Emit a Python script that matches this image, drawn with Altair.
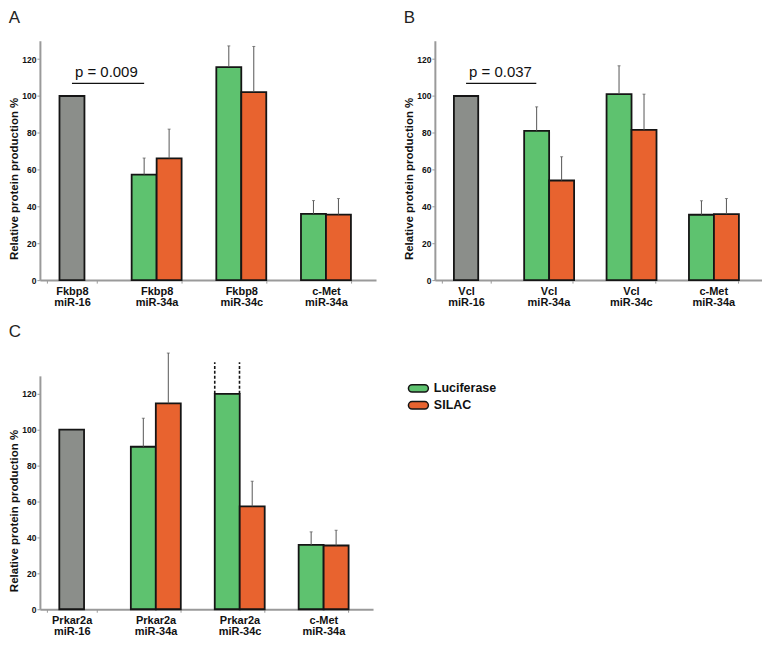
import altair as alt
import pandas as pd

FONT = "Liberation Sans"
GRAY = "#8b8e8a"
GREEN = "#5ec26f"
ORANGE = "#e8632f"
EDGE = "#151515"
ERR = "#555555"
AXIS = "#9a9a9a"

series = ["Luciferase", "SILAC"]
y_ticks = [0, 20, 40, 60, 80, 100, 120]
y_title = "Relative protein production %"

# Panel A
a_cats = ["Fkbp8|miR-16", "Fkbp8|miR-34a", "Fkbp8|miR-34c", "c-Met|miR-34a"]
a_control = 100
a_luc = [57.3, 115.7, 36.0]
a_luc_top = [66.3, 127.2, 43.2]
a_silac = [66.1, 102.1, 35.6]
a_silac_top = [82.0, 126.9, 44.3]
a_p_text = "p = 0.009"
a_p_level = 106.8

# Panel B
b_cats = ["Vcl|miR-16", "Vcl|miR-34a", "Vcl|miR-34c", "c-Met|miR-34a"]
b_control = 100
b_luc = [81.1, 101.0, 35.5]
b_luc_top = [94.1, 116.4, 43.1]
b_silac = [54.1, 81.6, 35.8]
b_silac_top = [67.0, 101.0, 44.3]
b_p_text = "p = 0.037"
b_p_level = 106.8

# Panel C
c_cats = ["Prkar2a|miR-16", "Prkar2a|miR-34a", "Prkar2a|miR-34c", "c-Met|miR-34a"]
c_control = 100
c_luc = [90.5, 120.0, 35.8]
c_luc_top = [106.4, None, 43.1]
c_silac = [114.7, 57.3, 35.5]
c_silac_top = [142.7, 71.3, 44.0]
c_break_cat = "Prkar2a|miR-34c"
c_break_lo = 120.0
c_break_hi = 137.6


def panel(letter, cats, ctrl, luc, luc_top, sil, sil_top, width, height,
          title_offset, p_text=None, p_level=None, brk=None):
    rows = []
    for i, c in enumerate(cats[1:]):
        rows.append(dict(cat=c, series="Luciferase", v=luc[i], top=luc_top[i]))
        rows.append(dict(cat=c, series="SILAC", v=sil[i], top=sil_top[i]))
    df = pd.DataFrame(rows)
    ctrl_df = pd.DataFrame([dict(cat=cats[0], v=ctrl)])

    xscale = alt.Scale(domain=cats, paddingInner=0.41, paddingOuter=0.19, align=0.22)
    xaxis = alt.Axis(
        title=None, labelExpr="split(datum.label, '|')", labelAngle=0,
        labelFont=FONT, labelFontSize=11, labelFontWeight="bold", labelColor="#111",
        labelLineHeight=11, labelPadding=2, tickBand="extent", tickSize=3,
        tickColor=AXIS, domainColor=AXIS, domainWidth=2, grid=False,
    )
    yaxis = alt.Axis(
        values=y_ticks, title=y_title, titleFont=FONT, titleFontSize=11.5,
        titleFontWeight="bold", titleColor="#111", titlePadding=2,
        titleY=height / 2 + 18, labelOverlap=False, labelBound=False,
        labelFont=FONT, labelFontSize=8.5, labelFontWeight="bold", labelColor="#111",
        labelPadding=1, tickSize=3, tickColor=AXIS, domainColor=AXIS, domainWidth=2,
        grid=False,
    )
    yscale = alt.Scale(domain=[0, 130], nice=False)
    x = alt.X("cat:N", scale=xscale, axis=xaxis)
    y = alt.Y("v:Q", scale=yscale, axis=yaxis)
    ytop = alt.Y("top:Q", scale=yscale, axis=yaxis)
    xo = alt.XOffset("series:N", scale=alt.Scale(domain=series, paddingInner=0, paddingOuter=0))
    color = alt.Color("series:N", scale=alt.Scale(domain=series, range=[GREEN, ORANGE]),
                      legend=alt.Legend(title=None))

    base = alt.Chart(df)
    err = base.transform_filter("isValid(datum.top)").mark_rule(
        color=ERR, strokeWidth=1).encode(x=x, xOffset=xo, y=y, y2="top:Q")
    cap = base.transform_filter("isValid(datum.top)").mark_tick(
        color=ERR, thickness=1, size=3).encode(x=x, xOffset=xo, y=ytop)
    bars = base.mark_bar(stroke=EDGE, strokeWidth=1.8).encode(
        x=x, xOffset=xo, y=y, color=color)
    ctrl_bar = alt.Chart(ctrl_df).mark_bar(
        stroke=EDGE, strokeWidth=1.8, fill=GRAY, width=alt.RelativeBandSize(0.5)
    ).encode(x=x, y=y)
    layers = [ctrl_bar, bars, err, cap]

    if p_text is not None:
        pdf = pd.DataFrame([dict(cat=cats[0], cat2=cats[1], v=p_level, label=p_text)])
        pline = alt.Chart(pdf).mark_rule(color="#111", strokeWidth=1.2).encode(
            x=x, x2=alt.X2("cat2", bandPosition=0.25), y=y)
        ptext = alt.Chart(pdf).mark_text(
            align="left", baseline="bottom", dx=3, dy=-3, font=FONT, fontSize=15,
            color="#111").encode(x=x, y=y, text="label:N")
        layers += [pline, ptext]

    if brk is not None:
        bdf = pd.DataFrame([dict(cat=brk[0], v=brk[1], hi=brk[2])])
        for bp in (0.0, 0.5):
            layers.append(alt.Chart(bdf).mark_rule(
                color=EDGE, strokeWidth=1.6, strokeDash=[3, 2]).encode(
                x=alt.X("cat:N", scale=xscale, axis=xaxis, bandPosition=bp),
                y=y, y2="hi:Q"))

    return alt.layer(*layers).properties(
        width=width, height=height,
        title=alt.TitleParams(letter, anchor="start", frame="bounds", fontSize=17,
                              fontWeight="normal", font=FONT, color="#222",
                              offset=title_offset),
    )


pA = panel("A", a_cats, a_control, a_luc, a_luc_top, a_silac, a_silac_top,
           337, 240, 14, a_p_text, a_p_level)
pB = panel("B", b_cats, b_control, b_luc, b_luc_top, b_silac, b_silac_top,
           328, 240, 14, b_p_text, b_p_level)
pC = panel("C", c_cats, c_control, c_luc, c_luc_top, c_silac, c_silac_top,
           334, 234, 12, brk=(c_break_cat, c_break_lo, c_break_hi))

legend_path = ("M-0.95,-0.55 L0.95,-0.55 A0.55,0.55 0 0 1 0.95,0.55 "
               "L-0.95,0.55 A0.55,0.55 0 0 1 -0.95,-0.55 Z")

chart = alt.vconcat(
    alt.hconcat(pA, pB, spacing=27),
    pC,
    spacing=15,
).properties(
    padding=0,
).configure_view(
    stroke=None
).configure_axisY(
    labelOverlap=False
).configure_legend(
    orient="none", legendX=372, legendY=341, symbolType=legend_path, symbolSize=178,
    symbolStrokeColor=EDGE, symbolStrokeWidth=1.5, labelFont=FONT, labelFontSize=12.5,
    labelFontWeight="bold", labelColor="#111", labelOffset=8, rowPadding=2,
    padding=0,
)

chart.save("out.html", embed_options={"renderer": "svg", "actions": False})
